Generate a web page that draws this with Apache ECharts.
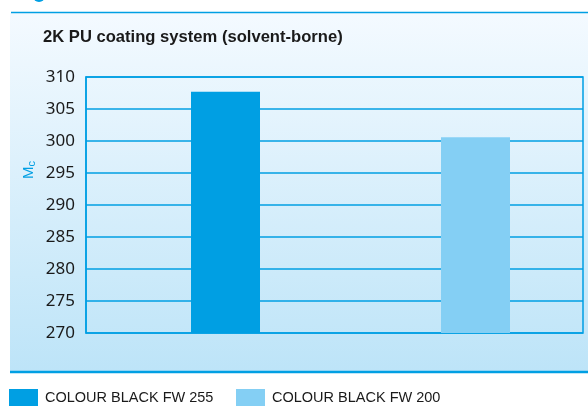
<!DOCTYPE html>
<html>
<head>
    <meta charset="utf-8">
    <title>2K PU coating system</title>
    <script src="https://cdn.jsdelivr.net/npm/echarts@6.0.0/dist/echarts.min.js"></script>
    <style>
        body { margin: 0; background: #fff; }
        #chart { width: 588px; height: 406px; }
    </style>
</head>
<body>
<div id="chart"></div>
<script type="text/javascript">
    // data
    var seriesNames = ['COLOUR BLACK FW 255', 'COLOUR BLACK FW 200'];
    var seriesValues = [307.7, 300.6];
    var seriesColors = ['#009fe3', '#84cff4'];
    var yTicks = [270, 275, 280, 285, 290, 295, 300, 305, 310];

    var blue = '#009fe3';
    var sans = "'Liberation Sans', sans-serif";

    var chart = echarts.init(document.getElementById('chart'));

    var series = seriesNames.map(function (name, i) {
        return {
            name: name,
            type: 'bar',
            barWidth: 69,
            barGap: '-100%',
            itemStyle: { color: seriesColors[i] },
            data: [[i, seriesValues[i]]]
        };
    });

    chart.setOption({
        animation: false,
        graphic: [
            // panel background
            {
                type: 'rect', z: -10,
                shape: { x: 10, y: 13, width: 578, height: 359 },
                style: {
                    fill: new echarts.graphic.LinearGradient(0, 0, 0, 1, [
                        { offset: 0, color: '#f4faff' },
                        { offset: 1, color: '#bde4f8' }
                    ])
                }
            },
            { type: 'line', shape: { x1: 11, y1: 12.5, x2: 588, y2: 12.5 }, style: { stroke: blue, lineWidth: 1.5 } },
            { type: 'line', shape: { x1: 10, y1: 372, x2: 588, y2: 372 }, style: { stroke: blue, lineWidth: 2.5 } },
            { type: 'circle', shape: { cx: 39, cy: -4, r: 6 }, style: { fill: blue } },
            {
                type: 'text', left: 43, top: 29,
                style: {
                    text: '2K PU coating system (solvent-borne)',
                    font: "bold 16.6px 'Liberation Sans', sans-serif",
                    fill: '#1a1a1a'
                }
            },
            {
                type: 'text', x: 20, y: 179, rotation: Math.PI / 2,
                style: {
                    text: '{m|M}{c|c}',
                    rich: {
                        m: { fontSize: 15, fontFamily: sans, fill: blue },
                        c: { fontSize: 11, fontFamily: sans, fill: blue, padding: [6, 0, 0, 0] }
                    }
                }
            }
        ],
        legend: [
            {
                left: 9, top: 389, padding: 0, itemWidth: 29, itemHeight: 17, itemGap: 0,
                icon: 'rect', data: [seriesNames[0]], selectedMode: false,
                textStyle: { fontSize: 14.5, fontFamily: sans, color: '#1a1a1a', padding: [3, 0, 0, 2] }
            },
            {
                left: 236, top: 389, padding: 0, itemWidth: 29, itemHeight: 17, itemGap: 0,
                icon: 'rect', data: [seriesNames[1]], selectedMode: false,
                textStyle: { fontSize: 14.5, fontFamily: sans, color: '#1a1a1a', padding: [3, 0, 0, 2] }
            }
        ],
        grid: {
            left: 86, right: 5, top: 77, bottom: 73,
            show: true, borderColor: blue, borderWidth: 1.5, backgroundColor: 'transparent'
        },
        xAxis: {
            type: 'value',
            min: -0.558, max: 1.43,
            axisLine: { show: false },
            axisTick: { show: false },
            axisLabel: { show: false },
            splitLine: { show: false }
        },
        yAxis: {
            type: 'value',
            min: yTicks[0], max: yTicks[yTicks.length - 1], interval: 5,
            axisLine: { show: true, onZero: false, lineStyle: { color: blue, width: 1.5 } },
            axisTick: { show: false },
            axisLabel: {
                color: '#1a1a1a', fontSize: 17, margin: 11,
                fontFamily: "'Noto Sans', sans-serif"
            },
            splitLine: { show: true, lineStyle: { color: blue, width: 1.6 } }
        },
        series: series
    });
</script>
</body>
</html>
